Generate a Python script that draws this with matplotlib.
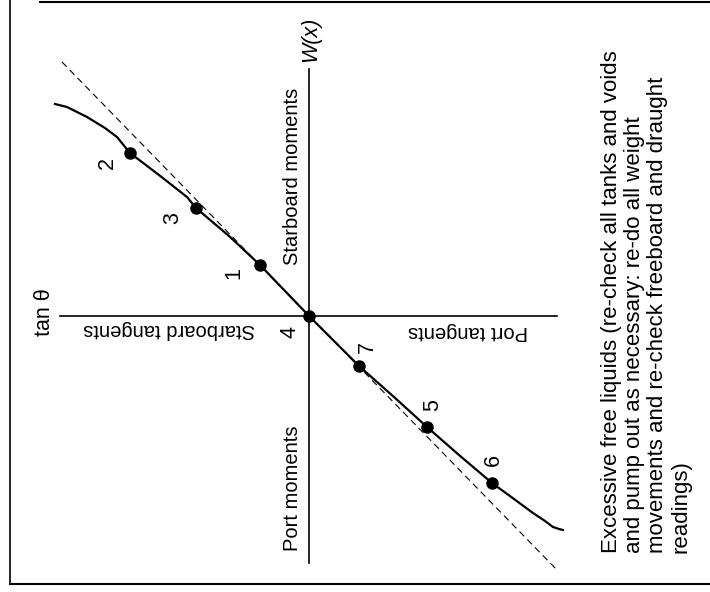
import matplotlib
matplotlib.use("Agg")
import matplotlib.pyplot as plt

plt.rcParams['font.family'] = ['Liberation Sans', 'DejaVu Sans']

# Data (arbitrary units: tangent axis horizontal, moment axis vertical)
point_labels = ["2", "3", "1", "4", "7", "5", "6"]
point_tan = [-179, -113, -49, 0, 50, 118, 183]
point_w = [163, 108, 51, 0, -50, -111, -167]
label_dx = [-23, -23, -26, -19, 8, 6, 1]
label_dy = [-10, -10, -8, -16, 19, 22, 23]

curve_tan = [-254, -242, -222, -204, -192, -179, -150, -122, -113, -80, -49,
             -24, 0, 25, 50, 85, 118, 150, 183, 205, 224, 236, 244, 250, 254]
curve_w = [212, 209, 199, 188, 179, 163, 141, 119, 108, 80, 51,
           25, 0, -25, -50, -81, -111, -139, -167, -183, -197, -205, -211, -213, -214]

dash_tan = [-247, 248]
dash_w = [254, -254]

axis_h = [-249, 248]
axis_v = [247, -247]

note = ("Excessive free liquids (re-check all tanks and voids\n"
        "and pump out as necessary: re-do all weight\n"
        "movements and re-check freeboard and draught\n"
        "readings)")

fig = plt.figure(figsize=(7.10, 5.92), dpi=100)
ax = fig.add_axes([0, 0, 1, 1])
ax.set_xlim(-309, 401)
ax.set_ylim(-276, 316)
ax.axis('off')

# axes lines
ax.plot(axis_h, [0, 0], color='black', lw=1.2)
ax.plot([0, 0], axis_v, color='black', lw=1.2)

# dashed tangent
ax.plot(dash_tan, dash_w, color='black', lw=0.8, ls=(0, (6, 4)))

# curve
ax.plot(curve_tan, curve_w, color='black', lw=1.6, solid_joinstyle='round')

# points
ax.plot(point_tan, point_w, 'o', color='black', ms=8)

for lab, x, y, dx, dy in zip(point_labels, point_tan, point_w, label_dx, label_dy):
    ax.text(x + dx, y + dy, lab, rotation=90, ha='center', va='center', fontsize=15.5)

ax.text(2, 277, "W(x)", rotation=90, ha='center', va='center', fontsize=15.5, fontstyle='italic')
ax.text(-264, 4, "tan θ", rotation=90, ha='center', va='center', fontsize=15.5)
ax.text(-16, 140, "Starboard moments", rotation=90, ha='center', va='center', fontsize=14.5)
ax.text(-16, -172, "Port moments", rotation=90, ha='center', va='center', fontsize=14.5)
ax.text(-140, -14, "Starboard tangents", rotation=180, ha='center', va='center', fontsize=14.5)
ax.text(159, -16, "Port tangents", rotation=180, ha='center', va='center', fontsize=14.5)

ax.text(292, -237, note, rotation=90, ha='left', va='bottom', multialignment='left',
        fontsize=16, linespacing=1.13)

# frame
fw, fh = 710.0, 592.0
fig.add_artist(plt.Line2D([10/fw, 10/fw], [1 - 584/fh, 1.0], color='black', lw=1.2))
fig.add_artist(plt.Line2D([10/fw, 709/fw], [1 - 584/fh, 1 - 584/fh], color='black', lw=1.5))
fig.add_artist(plt.Line2D([40/fw, 1.0], [1 - 1.5/fh, 1 - 1.5/fh], color='black', lw=1.5))

fig.savefig("out.png", dpi=100)
